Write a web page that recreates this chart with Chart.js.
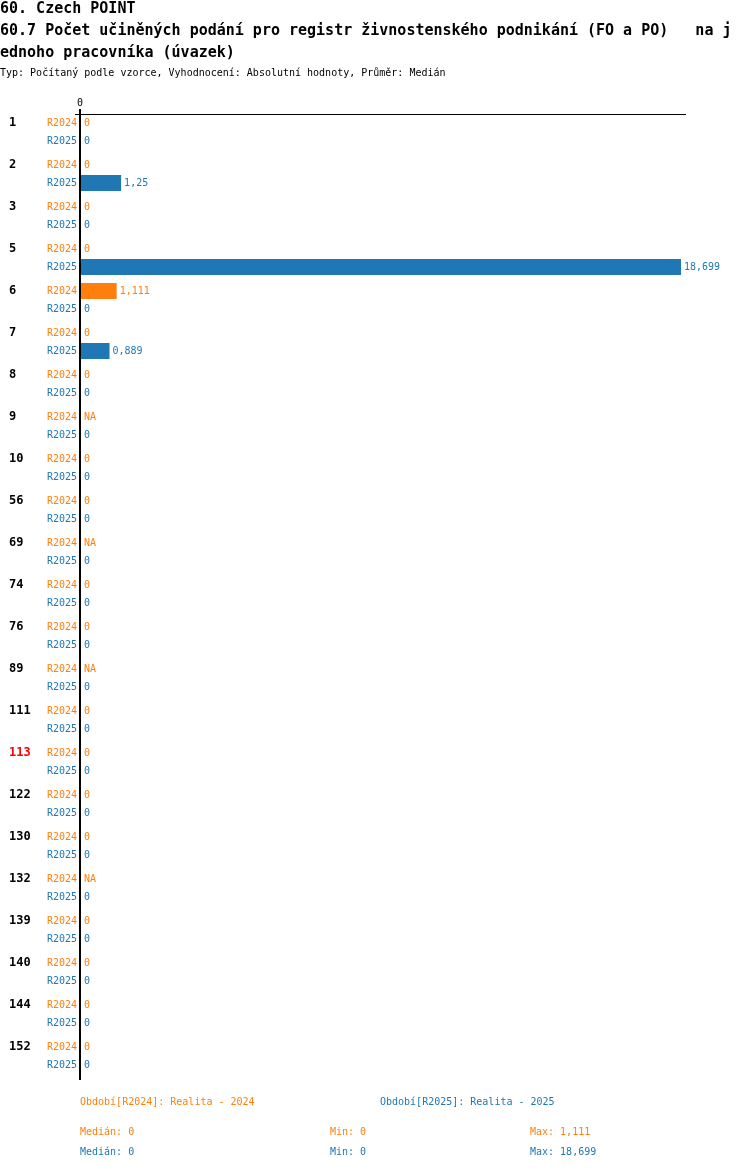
<!DOCTYPE html>
<html>
<head>
<meta charset="utf-8">
<script src="https://cdn.jsdelivr.net/npm/chart.js@4.4.1/dist/chart.umd.min.js"></script>
<style>
    body { margin: 0; background: #fff; }
    #wrap { position: relative; width: 750px; height: 1170px; font-family: "DejaVu Sans Mono", monospace; }
    #wrap canvas { position: absolute; left: 0; top: 0; }
    .t { position: absolute; left: 0; white-space: pre; }
    .h { font-size: 15px; line-height: 17px; font-weight: bold; color: #000; }
    .s { font-size: 10px; line-height: 12px; color: #000; }
    .l { font-size: 10px; line-height: 12px; }
</style>
</head>
<body>
<div id="wrap">
    <canvas id="chart" width="750" height="1170"></canvas>
    <div class="t h" style="top:0px">60. Czech POINT</div>
    <div class="t h" style="top:22px">60.7 Počet učiněných podání pro registr živnostenského podnikání (FO a PO)   na j</div>
    <div class="t h" style="top:44px">ednoho pracovníka (úvazek)</div>
    <div class="t s" style="top:67px">Typ: Počítaný podle vzorce, Vyhodnocení: Absolutní hodnoty, Průměr: Medián</div>
    <div id="legend"></div>
</div>
<script>
// Data
const groups = ['1', '2', '3', '5', '6', '7', '8', '9', '10', '56', '69', '74', '76', '89', '111', '113', '122', '130', '132', '139', '140', '144', '152'];
const highlighted = ['113'];
const seriesNames = ['R2024', 'R2025'];
const seriesTitles = ['Realita - 2024', 'Realita - 2025'];
const r2024 = [0, 0, 0, 0, 1.111, 0, 0, null, 0, 0, null, 0, 0, null, 0, 0, 0, 0, null, 0, 0, 0, 0];
const r2025 = [0, 1.25, 0, 18.699, 0, 0.889, 0, 0, 0, 0, 0, 0, 0, 0, 0, 0, 0, 0, 0, 0, 0, 0, 0];
const xTicks = [0];

const colors = ['#ff7f0e', '#1f77b4'];

function fmt(v) {
    if (v === null || v === undefined) return 'NA';
    return String(v).replace('.', ',');
}

function median(arr) {
    const v = arr.filter(x => x !== null).sort((a, b) => a - b);
    const m = Math.floor(v.length / 2);
    return v.length % 2 ? v[m] : (v[m - 1] + v[m]) / 2;
}

// Labels, axis lines and values drawn next to the bars
const labelPlugin = {
    id: 'labels',
    afterDatasetsDraw(chart) {
        const ctx = chart.ctx;
        const x = chart.scales.x;
        const area = chart.chartArea;
        const zero = x.getPixelForValue(0);
        ctx.save();
        ctx.textBaseline = 'middle';

        chart.data.datasets.forEach((ds, di) => {
            const meta = chart.getDatasetMeta(di);
            meta.data.forEach((bar, i) => {
                const y = bar.y;
                const v = ds.data[i];
                const end = v === null ? zero : x.getPixelForValue(v);

                ctx.fillStyle = colors[di];
                ctx.font = '10px "DejaVu Sans Mono"';
                ctx.textAlign = 'right';
                ctx.fillText(seriesNames[di], zero - 4, y);
                ctx.textAlign = 'left';
                ctx.fillText(fmt(v), end + 3, y);

                if (di === 0) {
                    ctx.font = 'bold 12px "DejaVu Sans Mono"';
                    ctx.fillStyle = highlighted.includes(groups[i]) ? '#ff0000' : '#000';
                    ctx.fillText(groups[i], 9, y);
                }
            });
        });

        // axis lines
        ctx.fillStyle = '#000';
        ctx.fillRect(zero - 2, area.top - 2, 2, area.bottom - area.top + 5);
        ctx.fillRect(zero - 6, area.top + 3, area.right + 5 - (zero - 6), 1);

        ctx.font = '10px "DejaVu Sans Mono"';
        ctx.textAlign = 'center';
        xTicks.forEach(t => {
            ctx.fillText(fmt(t), x.getPixelForValue(t) - 1, area.top - 8);
        });
        ctx.restore();
    }
};

const ctx = document.getElementById('chart').getContext('2d');
new Chart(ctx, {
    type: 'bar',
    data: {
        labels: groups,
        datasets: [
            { label: seriesNames[0], data: r2024, backgroundColor: colors[0] },
            { label: seriesNames[1], data: r2025, backgroundColor: colors[1] }
        ]
    },
    options: {
        indexAxis: 'y',
        responsive: false,
        animation: false,
        devicePixelRatio: 1,
        categoryPercentage: 36 / 42,
        barPercentage: 16 / 18,
        layout: {
            padding: { left: 81, top: 111, right: 69, bottom: 93 }
        },
        scales: {
            x: { display: false, min: 0, max: Math.max(...r2024, ...r2025) },
            y: { display: false }
        },
        plugins: {
            legend: { display: false },
            tooltip: { enabled: false }
        }
    },
    plugins: [labelPlugin]
});

// Legend and summary rows
const legend = document.getElementById('legend');
const series = [r2024, r2025];
let html = '';
seriesNames.forEach((name, i) => {
    const vals = series[i].filter(v => v !== null);
    html += `<div class="t l" style="top:${1096}px;left:${80 + i * 300}px;color:${colors[i]}">Období[${name}]: ${seriesTitles[i]}</div>`;
    const top = 1126 + i * 20;
    html += `<div class="t l" style="top:${top}px;left:80px;color:${colors[i]}">Medián: ${fmt(median(series[i]))}</div>`;
    html += `<div class="t l" style="top:${top}px;left:330px;color:${colors[i]}">Min: ${fmt(Math.min(...vals))}</div>`;
    html += `<div class="t l" style="top:${top}px;left:530px;color:${colors[i]}">Max: ${fmt(Math.max(...vals))}</div>`;
});
legend.innerHTML = html;
</script>
</body>
</html>
